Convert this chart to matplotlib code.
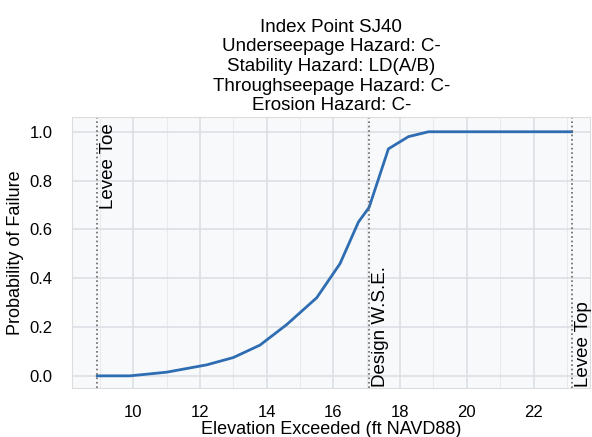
import matplotlib.pyplot as plt
from matplotlib.ticker import MultipleLocator

plt.rcParams['font.family'] = ['Liberation Sans', 'DejaVu Sans']

# curve
elev = [8.92, 9.9, 11.0, 12.2, 13.0, 13.8, 14.6, 15.5, 16.2, 16.75, 17.07, 17.65, 18.25, 18.85, 23.14]
prob = [0.0, 0.0, 0.015, 0.045, 0.075, 0.126, 0.21, 0.32, 0.46, 0.63, 0.69, 0.93, 0.98, 1.0, 1.0]

marks = [8.92, 17.07, 23.14]
mark_labels = ['Levee Toe', 'Design W.S.E.', 'Levee Top']
mark_pos = ['top', 'bottom', 'bottom']

title_lines = ['Index Point SJ40', 'Underseepage Hazard: C-', 'Stability Hazard: LD(A/B)',
               'Throughseepage Hazard: C-', 'Erosion Hazard: C-']

fig = plt.figure(figsize=(5.92, 4.37), dpi=100)
ax = fig.add_axes([0.122, 0.112, 0.875, 0.62])
ax.set_facecolor('#f8f9fb')

ax.plot(elev, prob, color='#2f6db3', linewidth=2)

for x, lab, pos in zip(marks, mark_labels, mark_pos):
    ax.axvline(x, color='#666666', linestyle=':', linewidth=1.2)
    if pos == 'top':
        ax.text(x + 0.09, 1.035, lab, rotation=90, ha='left', va='top', fontsize=13.5)
    else:
        ax.text(x + 0.09, -0.045, lab, rotation=90, ha='left', va='bottom', fontsize=13.5)

ax.set_xlim(8.17, 23.7)
ax.set_ylim(-0.05, 1.06)
ax.xaxis.set_major_locator(MultipleLocator(2))
ax.xaxis.set_minor_locator(MultipleLocator(1))
ax.yaxis.set_major_locator(MultipleLocator(0.2))
ax.grid(which='major', color='#dcdfe4', linewidth=1.2)
ax.grid(which='minor', axis='x', color='#e8eaee', linewidth=0.8)
ax.tick_params(which='both', length=0, labelsize=12)
ax.tick_params(axis='y', pad=14)
ax.tick_params(axis='x', pad=12)
for s in ax.spines.values():
    s.set_color('#dddddd')

ax.set_xlabel('Elevation Exceeded (ft NAVD88)', fontsize=13, labelpad=1)
ax.set_ylabel('Probability of Failure', fontsize=13, labelpad=4)
ax.set_title('\n'.join(title_lines), fontsize=13.5, linespacing=1.2, pad=5)

fig.savefig('out.png', dpi=100, facecolor='white')
